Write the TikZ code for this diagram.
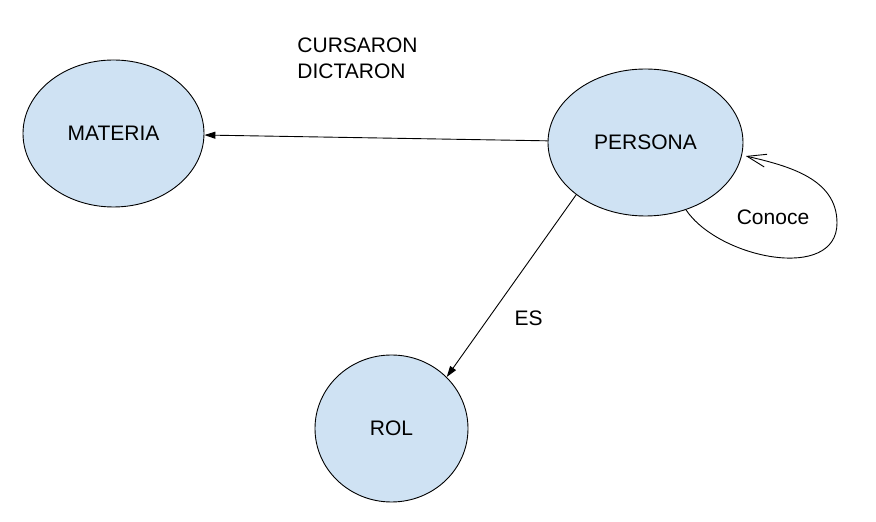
\documentclass[tikz,border=0pt]{standalone}
\usepackage{fontspec}
\setmainfont{Liberation Sans}
\usetikzlibrary{shapes.geometric,arrows.meta}
\definecolor{entblue}{HTML}{CFE2F3}

\begin{document}
\begin{tikzpicture}[x=1pt,y=1pt,->,>={Triangle[length=11pt,width=7pt]},line width=0.9pt,
  every node/.style={font=\fontsize{21}{26}\selectfont},
  entity/.style={ellipse,draw,fill=entblue,inner sep=0pt}]
  \useasboundingbox[fill=white] (0,0) rectangle (876,522);
  \node[entity,minimum width=181pt,minimum height=147pt] (materia) at (113.5,388.5) {MATERIA};
  \node[entity,minimum width=195pt,minimum height=147pt] (persona) at (645.5,379.5) {PERSONA};
  \node[entity,minimum width=153pt,minimum height=147pt] (rol) at (391.5,93.5) {ROL};
  \coordinate (loopturn) at (837,299);

  \node[anchor=north west,align=left,inner sep=0pt] (verbos) at (297,485) {CURSARON\\DICTARON};
  \node (conoce) at (773,305) {Conoce};

  \path[->] (persona) edge (materia)
        (persona.217) edge node[pos=0.68,anchor=west,inner sep=0pt,xshift=26pt] {ES} (rol.43);
  \draw[-{Straight Barb[length=19pt,width=13pt]}] (persona.301) to[out=-56,in=-90] (loopturn)
        to[out=90,in=-13] ([xshift=4pt]persona.352);
\end{tikzpicture}
\end{document}
